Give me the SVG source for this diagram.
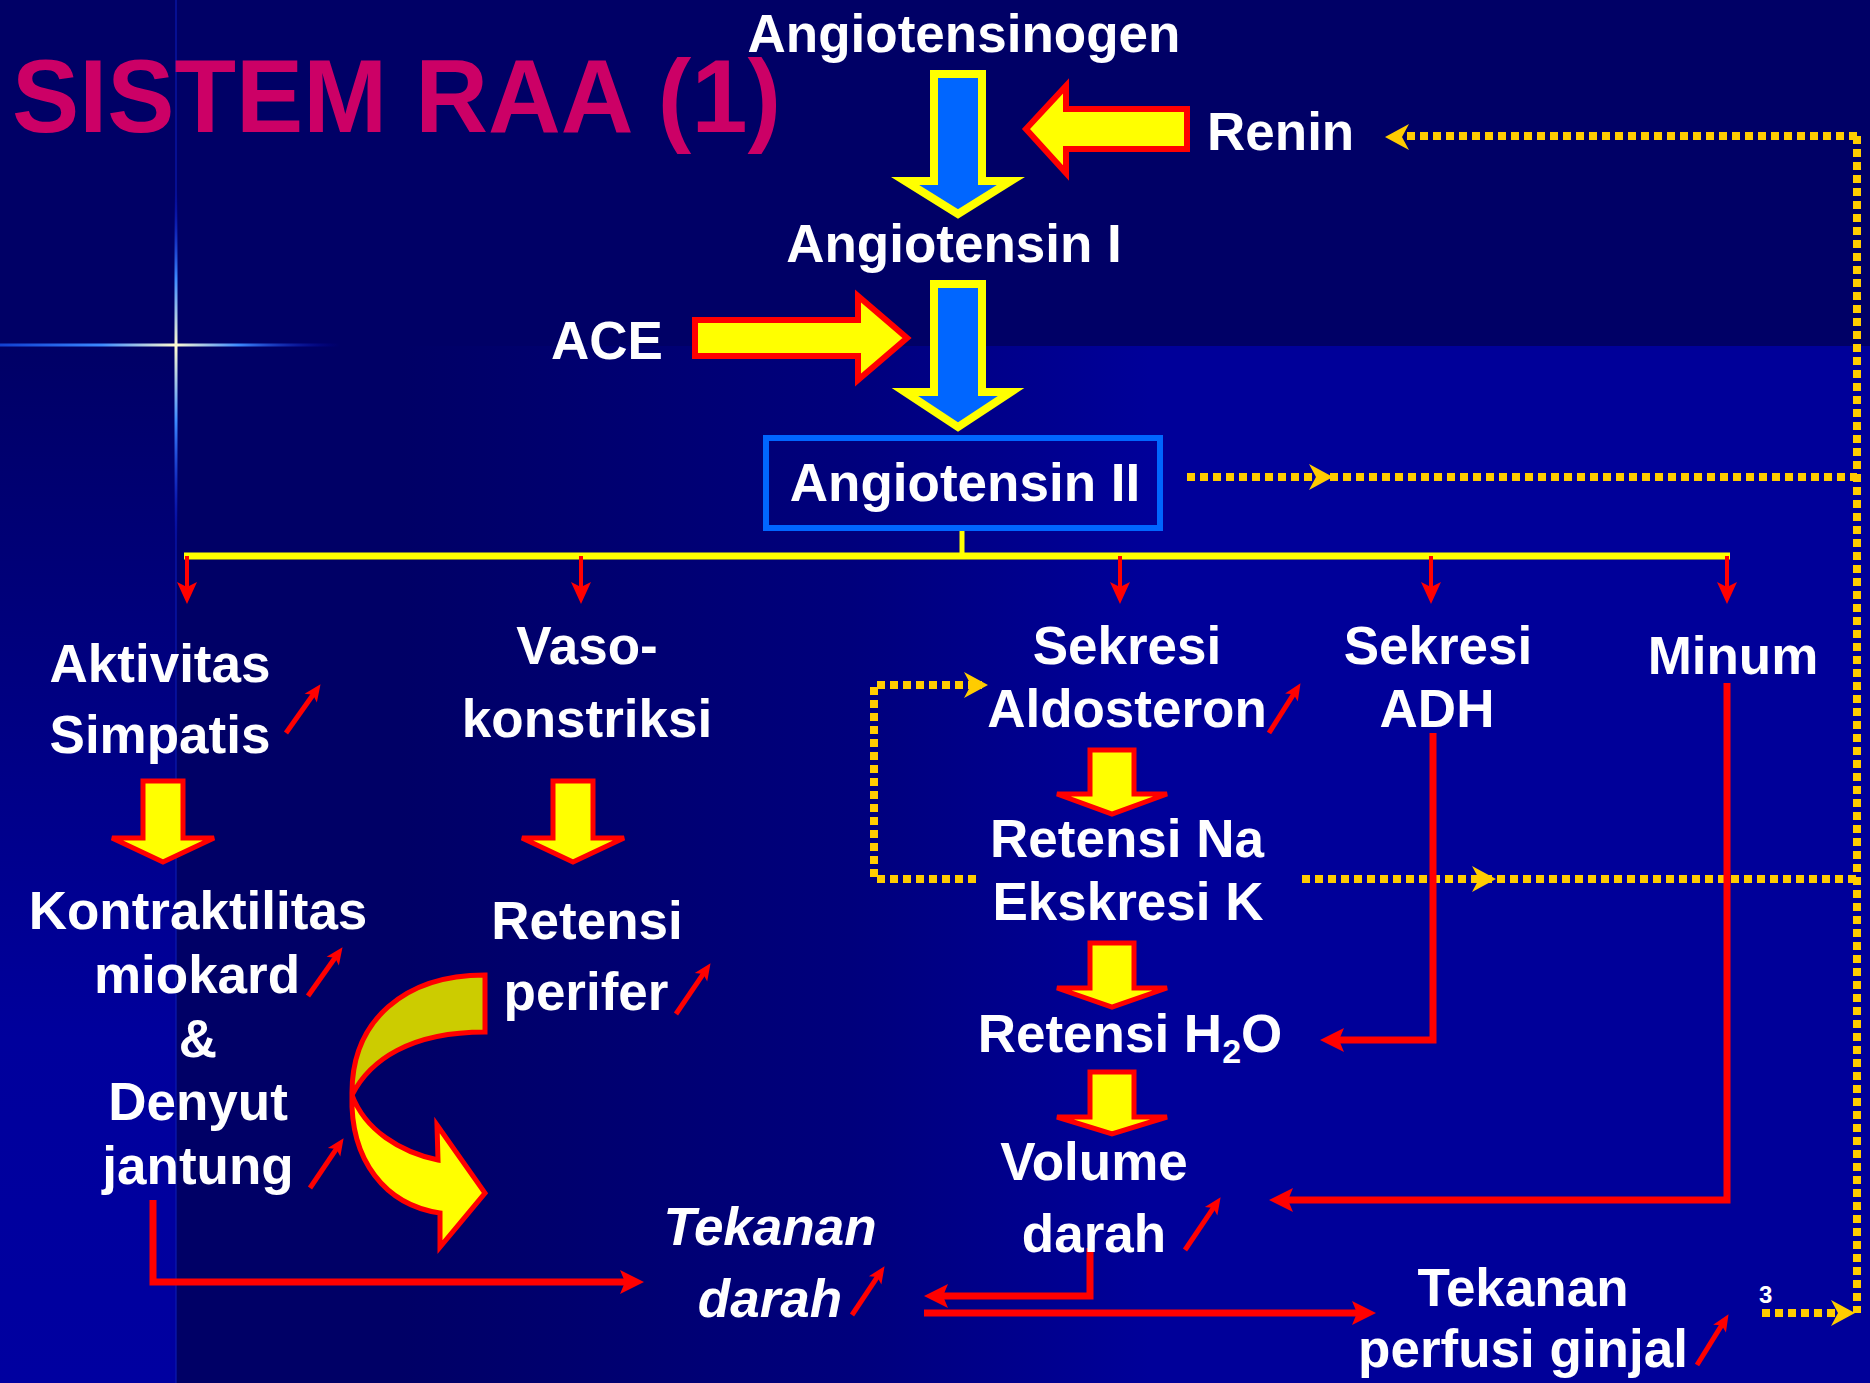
<svg xmlns="http://www.w3.org/2000/svg" width="1870" height="1383" viewBox="0 0 1870 1383">
  <style>
    .t { font-family: "Liberation Sans", Arial, Helvetica, sans-serif; font-weight: bold; font-size: 53px; fill: #ffffff; text-anchor: middle; }
    .it { font-style: italic; }
    .title { font-family: "Liberation Sans", Arial, Helvetica, sans-serif; font-weight: bold; font-size: 104px; fill: #cc0066; }
    .blue { fill: #0066ff; stroke: #ffff00; stroke-width: 8; stroke-linejoin: miter; }
    .ya { fill: #ffff00; stroke: #ff0000; stroke-width: 6; stroke-linejoin: miter; }
    .sa { fill: #ffff00; stroke: #ff0000; stroke-width: 5; stroke-linejoin: miter; }
    .rc { fill: none; stroke: #ff0000; stroke-width: 7; stroke-linejoin: miter; marker-end: url(#hBig); }
    .br { fill: none; stroke: #ff0000; stroke-width: 4; marker-end: url(#hMid); }
    .up { fill: none; stroke: #ff0000; stroke-width: 5; marker-end: url(#hSmall); }
    .dash { fill: none; stroke: #ffcc00; stroke-width: 8; stroke-dasharray: 8 5; }
    .dh { fill: #ffcc00; }
  </style>
  <defs>
    <linearGradient id="leftStrip" x1="0" y1="0" x2="0" y2="1383" gradientUnits="userSpaceOnUse">
      <stop offset="0.25" stop-color="#000066"/>
      <stop offset="0.75" stop-color="#00009c"/>
      <stop offset="1" stop-color="#0000a0"/>
    </linearGradient>
    <linearGradient id="lowerPane" x1="400" y1="0" x2="1150" y2="0" gradientUnits="userSpaceOnUse">
      <stop offset="0" stop-color="#000066"/>
      <stop offset="0.6" stop-color="#00007c"/>
      <stop offset="1" stop-color="#000099"/>
    </linearGradient>
    <linearGradient id="flareH" x1="0" y1="0" x2="340" y2="0" gradientUnits="userSpaceOnUse">
      <stop offset="0" stop-color="#1a5cff" stop-opacity="0.7"/>
      <stop offset="0.3" stop-color="#3d8bff"/>
      <stop offset="0.515" stop-color="#fffbd0"/>
      <stop offset="0.7" stop-color="#3d8bff"/>
      <stop offset="1" stop-color="#0000cc" stop-opacity="0"/>
    </linearGradient>
    <linearGradient id="flareV" x1="0" y1="190" x2="0" y2="545" gradientUnits="userSpaceOnUse">
      <stop offset="0" stop-color="#0000cc" stop-opacity="0"/>
      <stop offset="0.25" stop-color="#3d8bff"/>
      <stop offset="0.44" stop-color="#fffbd0"/>
      <stop offset="0.65" stop-color="#3d8bff"/>
      <stop offset="1" stop-color="#0000cc" stop-opacity="0"/>
    </linearGradient>
    <filter id="soft" x="-20%" y="-20%" width="140%" height="140%">
      <feGaussianBlur stdDeviation="2.5"/>
    </filter>
    <!-- arrowheads: tip lies past the path end so the stroke stays inside -->
    <marker id="hBig" markerUnits="userSpaceOnUse" markerWidth="30" markerHeight="30" viewBox="0 -15 30 30" refX="6" refY="0" orient="auto" overflow="visible">
      <path d="M24,0 L0,-12 L5,0 L0,12 Z" fill="#ff0000"/>
    </marker>
    <marker id="hMid" markerUnits="userSpaceOnUse" markerWidth="26" markerHeight="26" viewBox="0 -13 26 26" refX="6" refY="0" orient="auto" overflow="visible">
      <path d="M22,0 L0,-10 L5,0 L0,10 Z" fill="#ff0000"/>
    </marker>
    <marker id="hSmall" markerUnits="userSpaceOnUse" markerWidth="20" markerHeight="20" viewBox="0 -10 20 20" refX="5" refY="0" orient="auto" overflow="visible">
      <path d="M17,0 L0,-7.5 L4,0 L0,7.5 Z" fill="#ff0000"/>
    </marker>
    <path id="dashHead" d="M0,0 L-24,-13 L-17,0 L-24,13 Z"/>
  </defs>

  <!-- backdrop -->
  <rect x="0" y="0" width="1870" height="1383" fill="#000066"/>
  <rect x="0" y="0" width="176" height="1383" fill="url(#leftStrip)"/>
  <rect x="176" y="346" width="1694" height="1037" fill="url(#lowerPane)"/>
  <line x1="176" y1="0" x2="176" y2="1383" stroke="#0a1ab0" stroke-width="2" opacity="0.6"/>
  <g id="flare">
    <line x1="0" y1="345" x2="340" y2="345" stroke="url(#flareH)" stroke-width="9" opacity="0.35" filter="url(#soft)"/>
    <line x1="176" y1="190" x2="176" y2="545" stroke="url(#flareV)" stroke-width="9" opacity="0.35" filter="url(#soft)"/>
    <line x1="0" y1="345" x2="340" y2="345" stroke="url(#flareH)" stroke-width="3"/>
    <line x1="176" y1="190" x2="176" y2="545" stroke="url(#flareV)" stroke-width="3"/>
  </g>

  <text class="title" x="12" y="132" textLength="769" lengthAdjust="spacingAndGlyphs">SISTEM RAA (1)</text>

  <g id="connectors">
    <!-- feedback loop, dotted -->
    <path class="dash" d="M1857,136 V1313"/>
    <path class="dash" d="M1857,136 H1392"/>
    <path class="dash" d="M1187,477 H1857"/>
    <path class="dash" d="M1302,879 H1857"/>
    <path class="dash" d="M976,879 H874 V685 H982"/>
    <path class="dash" d="M1762,1313 H1848"/>
    <use href="#dashHead" class="dh" transform="translate(1385,137) rotate(180)"/>
    <use href="#dashHead" class="dh" transform="translate(1333,477)"/>
    <use href="#dashHead" class="dh" transform="translate(1496,879)"/>
    <use href="#dashHead" class="dh" transform="translate(988,685)"/>
    <use href="#dashHead" class="dh" transform="translate(1855,1313)"/>

    <!-- enzyme cascade -->
    <path class="blue" d="M934,74 H982 V181 H1011 L958,214 L905,181 H934 Z"/>
    <path class="blue" d="M934,284 H982 V392 H1011 L958,427 L905,392 H934 Z"/>
    <path class="ya" d="M1187,109 V149 H1066 V173 L1026,129 L1066,86 V109 Z"/>
    <path class="ya" d="M695,320 H858 V296 L907,338 L858,380 V356 H695 Z"/>

    <!-- Angiotensin II distribution bar -->
    <line x1="962" y1="527" x2="962" y2="556" stroke="#ffff00" stroke-width="5"/>
    <line x1="184" y1="556" x2="1730" y2="556" stroke="#ffff00" stroke-width="7"/>
    <path class="br" d="M187,556 V588"/>
    <path class="br" d="M581,556 V588"/>
    <path class="br" d="M1120,556 V588"/>
    <path class="br" d="M1431,556 V588"/>
    <path class="br" d="M1727,556 V588"/>

    <!-- step arrows -->
    <path class="sa" d="M143,781 H183 V838 H214 L163,862 L112,838 H143 Z"/>
    <path class="sa" d="M553,781 H593 V838 H624 L573,862 L522,838 H553 Z"/>
    <path class="sa" d="M1090,750 H1134 V794 H1167 L1112,814 L1057,794 H1090 Z"/>
    <path class="sa" d="M1090,943 H1134 V988 H1167 L1112,1007 L1057,988 H1090 Z"/>
    <path class="sa" d="M1090,1072 H1134 V1117 H1167 L1112,1134 L1057,1117 H1090 Z"/>

    <!-- curved arrow from peripheral resistance -->
    <path class="sa" d="M352,1095 C350,1160 385,1205 440,1213 L440,1247 L485,1193 L437,1125 L438,1160 C400,1152 365,1130 352,1095 Z"/>
    <path d="M485,975 C405,975 351,1020 352,1095 C370,1060 410,1032 485,1032 Z" fill="#cccc00" stroke="#ff0000" stroke-width="5" stroke-linejoin="miter"/>

    <!-- red elbow connectors -->
    <path class="rc" d="M153,1200 V1282 H626"/>
    <path class="rc" d="M1433,733 V1040 H1338"/>
    <path class="rc" d="M1727,683 V1200 H1287"/>
    <path class="rc" d="M1090,1248 V1296 H942"/>
    <path class="rc" d="M924,1313 H1358"/>

    <!-- increase markers -->
    <path class="up" d="M286,733 L313.6,694"/>
    <path class="up" d="M1269,733 L1294.1,693.3"/>
    <path class="up" d="M308,996 L335.6,957"/>
    <path class="up" d="M676,1014 L703.8,973.1"/>
    <path class="up" d="M310,1188 L336.9,1148.1"/>
    <path class="up" d="M852,1315 L877.9,1276.2"/>
    <path class="up" d="M1185,1250 L1213.9,1207.1"/>
    <path class="up" d="M1697,1365 L1722.2,1324.4"/>
  </g>

  <g id="angiotensinogen"><text class="t" x="964" y="52">Angiotensinogen</text></g>
  <g id="renin"><text class="t" x="1207" y="150" style="text-anchor:start">Renin</text></g>
  <g id="angiotensin-1"><text class="t" x="954" y="262">Angiotensin I</text></g>
  <g id="ace"><text class="t" x="607" y="359">ACE</text></g>
  <g id="angiotensin-2">
    <rect x="766" y="438" width="394" height="90" fill="none" stroke="#0066ff" stroke-width="6"/>
    <text class="t" x="965" y="501">Angiotensin II</text>
  </g>
  <g id="aktivitas-simpatis">
    <text class="t" x="160" y="682">Aktivitas</text>
    <text class="t" x="160" y="753">Simpatis</text>
  </g>
  <g id="vasokonstriksi">
    <text class="t" x="587" y="664">Vaso-</text>
    <text class="t" x="587" y="737">konstriksi</text>
  </g>
  <g id="sekresi-aldosteron">
    <text class="t" x="1127" y="664">Sekresi</text>
    <text class="t" x="1127" y="727">Aldosteron</text>
  </g>
  <g id="sekresi-adh">
    <text class="t" x="1438" y="664">Sekresi</text>
    <text class="t" x="1437" y="727">ADH</text>
  </g>
  <g id="minum"><text class="t" x="1733" y="674">Minum</text></g>
  <g id="kontraktilitas">
    <text class="t" x="198" y="929">Kontraktilitas</text>
    <text class="t" x="197" y="993">miokard</text>
    <text class="t" x="198" y="1057">&amp;</text>
    <text class="t" x="198" y="1120">Denyut</text>
    <text class="t" x="198" y="1184">jantung</text>
  </g>
  <g id="retensi-perifer">
    <text class="t" x="587" y="939">Retensi</text>
    <text class="t" x="586" y="1010">perifer</text>
  </g>
  <g id="retensi-na">
    <text class="t" x="1127" y="857">Retensi Na</text>
    <text class="t" x="1128" y="920">Ekskresi K</text>
  </g>
  <g id="retensi-h2o">
    <text class="t" x="1130" y="1052">Retensi H<tspan font-size="34" dy="11">2</tspan><tspan dy="-11">O</tspan></text>
  </g>
  <g id="volume-darah">
    <text class="t" x="1094" y="1180">Volume</text>
    <text class="t" x="1094" y="1252">darah</text>
  </g>
  <g id="tekanan-darah">
    <text class="t it" x="770" y="1245">Tekanan</text>
    <text class="t it" x="770" y="1317">darah</text>
  </g>
  <g id="tekanan-perfusi">
    <text class="t" x="1523" y="1306">Tekanan</text>
    <text class="t" x="1523" y="1367">perfusi ginjal</text>
  </g>
  <g id="page-number"><text class="t" x="1759" y="1303" style="font-size:24px;text-anchor:start">3</text></g>
</svg>
